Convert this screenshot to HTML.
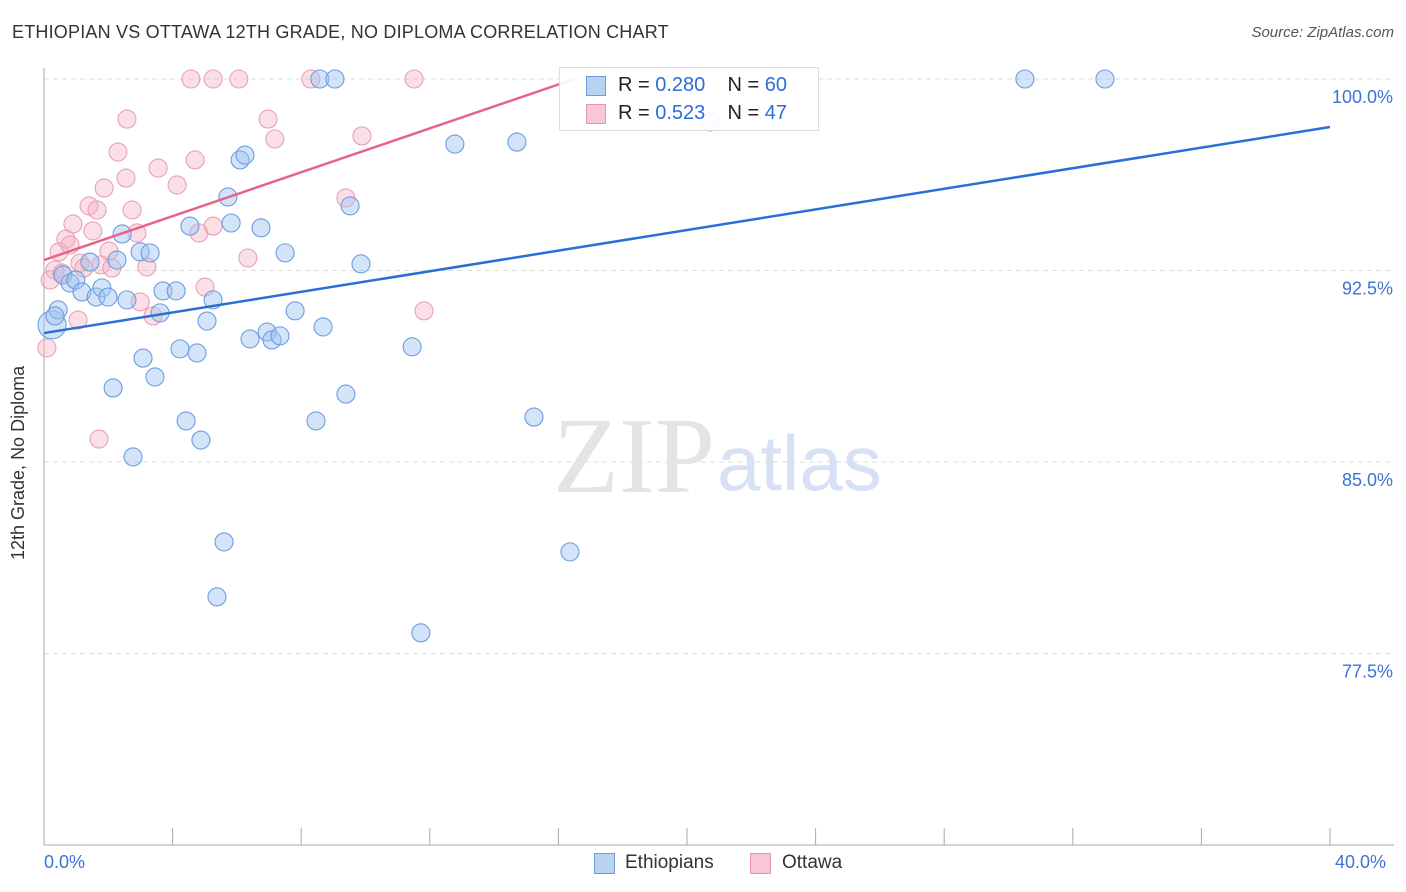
<!DOCTYPE html>
<html><head><meta charset="utf-8">
<style>
body{margin:0;background:#fff;font-family:"Liberation Sans",sans-serif;}
#wrap{position:relative;width:1406px;height:892px;overflow:hidden}
.t{position:absolute;white-space:nowrap}
</style></head>
<body>
<div id="wrap">
<div class="t" style="left:12px;top:22px;font-size:18px;color:#333;letter-spacing:0.2px">ETHIOPIAN VS OTTAWA 12TH GRADE, NO DIPLOMA CORRELATION CHART</div>
<div class="t" style="right:12px;top:24px;font-size:15px;color:#555;font-style:italic">Source: ZipAtlas.com</div>
<svg id="svg" width="1406" height="892" style="position:absolute;left:0;top:0"></svg>
</div>
<script>
const blueX=[0.25,0.44,0.34,0.59,0.81,0.99,1.18,1.43,1.62,1.80,1.99,2.15,2.27,2.43,2.58,2.77,2.99,3.08,3.30,3.45,3.61,3.70,4.11,4.23,4.42,4.54,4.76,4.88,5.07,5.26,5.38,5.60,5.72,5.82,6.10,6.25,6.41,6.75,6.94,7.09,7.34,7.50,7.81,8.46,8.58,8.68,9.05,9.39,9.52,9.86,11.45,11.72,12.78,14.71,15.24,16.36,20.71,30.51,33.0];
const blueY=[90.37,90.96,90.72,92.32,92.01,92.13,91.66,92.83,91.46,91.82,91.46,87.90,92.91,93.93,91.35,85.20,93.23,89.07,93.19,88.33,90.84,91.70,91.70,89.43,86.61,94.24,89.27,85.86,90.52,91.35,79.72,81.87,95.38,94.36,96.83,97.02,89.82,94.17,90.09,89.78,89.94,93.19,90.92,86.61,100,90.29,100,87.66,95.03,92.76,89.51,78.31,97.45,97.53,86.76,81.48,98.32,100,100];
const pinkX=[0.09,0.19,0.34,0.47,0.56,0.68,0.81,0.90,1.06,1.12,1.24,1.40,1.52,1.65,1.71,1.77,1.87,2.02,2.11,2.30,2.55,2.58,2.74,2.89,2.99,3.20,3.39,3.55,4.14,4.57,4.70,4.82,5.01,5.26,5.26,6.06,6.34,6.97,7.18,8.30,9.39,9.89,11.51,11.82];
const pinkY=[89.47,92.13,92.52,93.23,92.40,93.73,93.50,94.32,90.56,92.79,92.60,95.03,94.05,94.87,85.90,92.72,95.73,93.26,92.60,97.14,96.12,98.43,94.87,93.97,91.27,92.64,90.72,96.51,95.85,100,96.83,93.97,91.85,100,94.24,100,92.99,98.43,97.65,100,95.34,97.77,100,90.92];
const blueLine=[90.05,98.12];
const pinkLine=[92.91,100,16.5];
const yTicks=[100,92.5,85,77.5];
const yTickLabels=["100.0%","92.5%","85.0%","77.5%"];

const sx=v=>44+v/40*1286;
const sy=v=>79+(100-v)/30*766;
const svg=document.getElementById('svg');
const NS='http://www.w3.org/2000/svg';
function mk(tag,attrs,parent){const e=document.createElementNS(NS,tag);for(const k in attrs)e.setAttribute(k,attrs[k]);(parent||svg).appendChild(e);return e;}

yTicks.forEach((t,i)=>{
  const g=mk('line',{x1:44,x2:1394,y1:sy(t),y2:sy(t),stroke:'#ddd','stroke-dasharray':'5,4'});
  
  
  const tx=mk('text',{x:1393,y:sy(t)+24,'text-anchor':'end','font-size':18,fill:'#3b74d4','font-family':'Liberation Sans'});
  tx.textContent=yTickLabels[i];
  
  
});
const ax=mk('line',{x1:44,x2:44,y1:68,y2:845,stroke:'#aaa'});


const bx=mk('line',{x1:44,x2:1394,y1:845,y2:845,stroke:'#aaa'});


for(let i=0;i<=10;i++){
  const tk=mk('line',{x1:sx(i*4),x2:sx(i*4),y1:828,y2:845,stroke:'#aaa'});
  
  
}
const wm=mk('text',{x:553,y:492,'font-size':108,fill:'#e4e4e4','font-family':'Liberation Serif'});
wm.textContent='ZIP';


const wm2=mk('text',{x:717,y:490,'font-size':78,fill:'#d6e2f4','font-family':'Liberation Sans'});
wm2.textContent='atlas';



pinkX.forEach((x,i)=>{
  const c=mk('circle',{cx:sx(x),cy:sy(pinkY[i]),r:9,fill:'rgba(245,175,196,0.4)',stroke:'#eaa0b6','stroke-width':1.1});
  
  
});
blueX.forEach((x,i)=>{
  const c=mk('circle',{cx:sx(x),cy:sy(blueY[i]),r:i===0?14:9,fill:'rgba(160,196,240,0.45)',stroke:'#6b9de2','stroke-width':1.1});
  
  
});
const bl=mk('line',{x1:sx(0),y1:sy(blueLine[0]),x2:sx(40),y2:sy(blueLine[1]),stroke:'#2a6fd6','stroke-width':2.5});


const pl=mk('line',{x1:sx(0),y1:sy(pinkLine[0]),x2:sx(pinkLine[2]),y2:sy(pinkLine[1]),stroke:'#e8628a','stroke-width':2.5});


</script>
<div class="t" style="left:559px;top:67px;width:258px;height:62px;border:1px solid #ddd;background:rgba(255,255,255,0.92)">
  <div class="t" style="left:26px;top:8px;width:18px;height:18px;background:#b8d2f4;border:1px solid #6d9de0"></div>
  <div class="t" style="left:58px;top:6px;font-size:20px;color:#222">R = <span style="color:#2a6fd6">0.280</span>&nbsp;&nbsp;&nbsp; N = <span style="color:#2a6fd6">60</span></div>
  <div class="t" style="left:26px;top:36px;width:18px;height:18px;background:#f8c6d5;border:1px solid #e895ae"></div>
  <div class="t" style="left:58px;top:34px;font-size:20px;color:#222">R = <span style="color:#2a6fd6">0.523</span>&nbsp;&nbsp;&nbsp; N = <span style="color:#2a6fd6">47</span></div>
</div>
<div class="t" style="left:8px;top:560px;transform:rotate(-90deg);transform-origin:0 0;font-size:18px;color:#333">12th Grade, No Diploma</div>
<div class="t" style="left:44px;top:852px;font-size:18px;color:#3b74d4">0.0%</div>
<div class="t" style="left:1335px;top:852px;font-size:18px;color:#3b74d4">40.0%</div>
<div class="t" style="left:594px;top:853px;width:19px;height:19px;background:#b8d2f4;border:1px solid #6d9de0"></div>
<div class="t" style="left:625px;top:852px;font-size:19px;color:#333">Ethiopians</div>
<div class="t" style="left:750px;top:853px;width:19px;height:19px;background:#f8c6d5;border:1px solid #e895ae"></div>
<div class="t" style="left:782px;top:852px;font-size:19px;color:#333">Ottawa</div>
</body></html>
